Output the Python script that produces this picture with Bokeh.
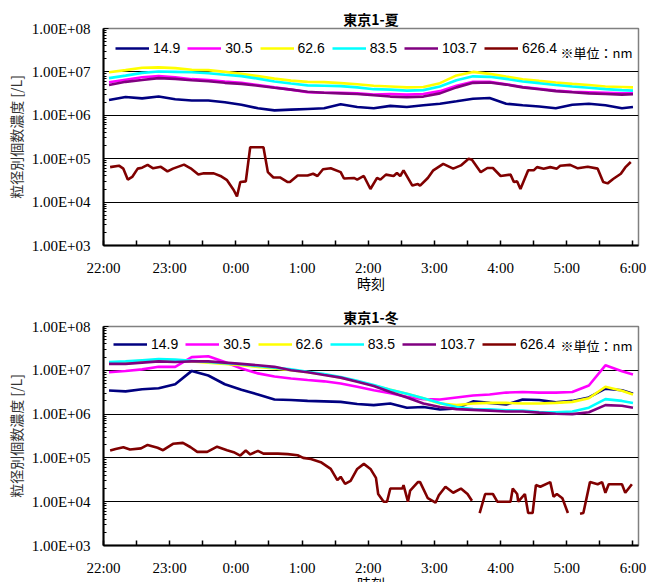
import math
from bokeh.plotting import figure
from bokeh.models import (Range1d, FixedTicker, CustomJSTickFormatter, Legend,
                          LegendItem, Label)
from bokeh.layouts import column
from bokeh.embed import file_html
from bokeh.resources import INLINE

nan = float("nan")

# ---------------- data ----------------
series_names = ["14.9", "30.5", "62.6", "83.5", "103.7", "626.4"]
series_colors = ["#000080", "#FF00FF", "#FFFF00", "#00FFFF", "#800080", "#800000"]

hour_labels = ["22:00", "23:00", "0:00", "1:00", "2:00", "3:00", "4:00", "5:00", "6:00"]
y_labels = ["1.00E+03", "1.00E+04", "1.00E+05", "1.00E+06", "1.00E+07", "1.00E+08"]

# minutes after 22:00
grid_min = [5, 20, 35, 50, 65, 80, 95, 110, 125, 140, 155, 170, 185, 200, 215, 230,
            245, 260, 275, 290, 305, 320, 335, 350, 365, 380, 395, 410, 425, 440,
            455, 470, 480]

# ---- 東京1-夏 ----
summer_d149 = [2.25e6, 2.65e6, 2.45e6, 2.7e6, 2.35e6, 2.2e6, 2.2e6, 2.0e6, 1.75e6, 1.45e6,
               1.3e6, 1.35e6, 1.4e6, 1.45e6, 1.8e6, 1.55e6, 1.45e6, 1.65e6, 1.55e6, 1.7e6,
               1.85e6, 2.1e6, 2.4e6, 2.5e6, 1.85e6, 1.7e6, 1.6e6, 1.45e6, 1.75e6, 1.85e6,
               1.7e6, 1.45e6, 1.55e6]
summer_d305 = [5.8e6, 6.6e6, 7.5e6, 8.0e6, 7.5e6, 6.8e6, 6.5e6, 6.0e6, 5.6e6, 5.0e6,
               4.4e6, 3.9e6, 3.4e6, 3.3e6, 3.3e6, 3.2e6, 3.0e6, 3.1e6, 3.0e6, 3.1e6,
               3.6e6, 4.8e6, 5.9e6, 5.9e6, 5.2e6, 4.5e6, 4.1e6, 3.7e6, 3.5e6, 3.4e6,
               3.3e6, 3.2e6, 3.2e6]
summer_d626 = [9.8e6, 1.1e7, 1.25e7, 1.27e7, 1.22e7, 1.12e7, 1.1e7, 1.0e7, 9.0e6, 8.0e6,
               7.0e6, 6.3e6, 5.9e6, 5.8e6, 5.5e6, 5.2e6, 4.8e6, 4.6e6, 4.4e6, 4.5e6,
               5.5e6, 8.3e6, 1.0e7, 9.0e6, 7.8e6, 6.8e6, 6.2e6, 5.7e6, 5.3e6, 5.0e6,
               4.6e6, 4.5e6, 4.4e6]
summer_d835 = [7.2e6, 8.2e6, 9.5e6, 1.02e7, 1.0e7, 9.8e6, 9.3e6, 8.6e6, 8.0e6, 7.0e6,
               6.0e6, 5.4e6, 4.9e6, 4.8e6, 4.7e6, 4.4e6, 4.0e6, 3.9e6, 3.7e6, 3.8e6,
               4.6e6, 6.4e6, 7.9e6, 7.7e6, 6.9e6, 6.0e6, 5.5e6, 5.0e6, 4.6e6, 4.3e6,
               4.0e6, 3.8e6, 3.7e6]
summer_d1037 = [5.0e6, 5.9e6, 6.5e6, 7.2e6, 6.9e6, 6.4e6, 6.1e6, 5.6e6, 5.3e6, 4.8e6,
                4.3e6, 3.9e6, 3.5e6, 3.3e6, 3.2e6, 3.1e6, 2.9e6, 2.7e6, 2.6e6, 2.7e6,
                3.2e6, 4.4e6, 5.6e6, 5.7e6, 5.1e6, 4.4e6, 4.0e6, 3.6e6, 3.4e6, 3.2e6,
                3.1e6, 3.0e6, 3.05e6]
summer_d6264_t = [6, 14, 18, 22, 26, 31, 35, 40, 45, 52, 58, 63, 73, 79, 86, 91, 100, 106,
                  112, 118, 121, 124, 129, 133, 145, 149, 154, 160, 167, 169, 176, 185, 190,
                  194, 199, 206, 215, 218, 227, 230, 236, 242, 248, 251, 256, 263, 266, 269,
                  272, 280, 285, 287, 294, 299, 308, 317, 324, 331, 334, 342, 348, 353, 360,
                  369, 372, 375, 378, 385, 390, 393, 399, 405, 411, 414, 423, 430, 439, 448,
                  453, 457, 462, 469, 473, 478]
summer_d6264 = [6.4e4, 6.9e4, 5.9e4, 3.3e4, 3.8e4, 5.9e4, 6.2e4, 7.2e4, 6.0e4, 6.5e4,
                5.1e4, 5.9e4, 7.3e4, 6.0e4, 4.3e4, 4.6e4, 4.6e4, 4.0e4, 3.2e4, 1.9e4,
                1.35e4, 2.9e4, 3.0e4, 1.84e5, 1.84e5, 4.9e4, 3.7e4, 3.7e4, 2.9e4, 2.9e4,
                4.1e4, 4.1e4, 4.5e4, 4.0e4, 5.7e4, 6.0e4, 4.9e4, 3.5e4, 3.6e4, 3.3e4,
                4.0e4, 2.0e4, 3.6e4, 3.3e4, 4.3e4, 4.0e4, 4.7e4, 4.0e4, 5.4e4, 2.4e4,
                2.6e4, 2.4e4, 3.6e4, 5.4e4, 7.6e4, 5.9e4, 7.0e4, 1.0e5, 9.5e4, 4.9e4,
                6.1e4, 6.1e4, 4.0e4, 4.3e4, 2.9e4, 3.0e4, 2.0e4, 5.4e4, 5.4e4, 6.4e4,
                5.9e4, 6.4e4, 5.9e4, 6.9e4, 7.2e4, 6.0e4, 6.5e4, 5.9e4, 2.9e4, 2.7e4,
                3.4e4, 4.5e4, 6.3e4, 8.4e4]

# ---- 東京1-冬 ----
winter_d149 = [3.45e6, 3.3e6, 3.7e6, 3.9e6, 4.8e6, 9.7e6, 7.6e6, 4.8e6, 3.6e6, 2.8e6,
               2.15e6, 2.1e6, 2.0e6, 1.95e6, 1.9e6, 1.7e6, 1.6e6, 1.75e6, 1.4e6, 1.45e6,
               1.27e6, 1.35e6, 1.95e6, 1.8e6, 1.65e6, 2.15e6, 2.1e6, 1.85e6, 2.0e6, 2.4e6,
               3.8e6, 3.5e6, 2.9e6]
winter_d305 = [9.0e6, 9.6e6, 1.05e7, 1.2e7, 1.2e7, 2.0e7, 2.1e7, 1.55e7, 1.1e7, 8.5e6,
               7.2e6, 6.5e6, 6.0e6, 5.6e6, 5.0e6, 4.2e6, 3.5e6, 3.0e6, 2.5e6, 2.2e6,
               2.15e6, 2.4e6, 2.65e6, 2.8e6, 3.1e6, 3.2e6, 3.1e6, 3.1e6, 3.2e6, 4.5e6,
               1.3e7, 9.5e6, 8.0e6]
winter_d626 = [1.5e7, 1.55e7, 1.65e7, 1.7e7, 1.7e7, 1.6e7, 1.5e7, 1.4e7, 1.3e7, 1.2e7,
               1.1e7, 1.0e7, 9.0e6, 8.0e6, 6.8e6, 5.6e6, 4.5e6, 3.6e6, 2.9e6, 2.3e6,
               1.75e6, 1.6e6, 1.75e6, 1.8e6, 1.8e6, 1.75e6, 1.75e6, 1.8e6, 1.9e6, 2.3e6,
               4.2e6, 3.4e6, 2.8e6]
winter_d835 = [1.55e7, 1.6e7, 1.7e7, 1.8e7, 1.75e7, 1.65e7, 1.55e7, 1.45e7, 1.38e7, 1.25e7,
               1.15e7, 1.05e7, 9.3e6, 8.2e6, 7.0e6, 5.8e6, 4.6e6, 3.6e6, 2.9e6, 2.3e6,
               1.8e6, 1.45e6, 1.3e6, 1.28e6, 1.22e6, 1.2e6, 1.12e6, 1.1e6, 1.15e6, 1.4e6,
               2.2e6, 2.0e6, 1.8e6]
winter_d1037 = [1.4e7, 1.4e7, 1.5e7, 1.6e7, 1.55e7, 1.6e7, 1.6e7, 1.5e7, 1.4e7, 1.3e7,
                1.2e7, 1.0e7, 9.0e6, 7.8e6, 6.8e6, 5.5e6, 4.4e6, 3.2e6, 2.4e6, 1.75e6,
                1.45e6, 1.3e6, 1.25e6, 1.2e6, 1.15e6, 1.15e6, 1.08e6, 1.02e6, 1.0e6, 1.1e6,
                1.6e6, 1.55e6, 1.4e6]
winter_d6264_t = [6, 11, 18, 24, 34, 40, 49, 54, 63, 72, 79, 85, 94, 103, 112, 118, 124,
                  129, 133, 140, 145, 158, 167, 176, 181, 188, 197, 206, 212, 215, 219, 224,
                  230, 236, 242, 247, 249, 254, 257, 260, 271, 272, 276, 278, 285, 287, 294,
                  301, 304, 310, 317, 324, 330, 334, 337, 341, 346, 353, 357, 369, 371, 375,
                  376, 382, 385, 389, 392, 396, 405, 408, 411, 416, 421, 426, 432, 435, 441,
                  448, 452, 455, 458, 470, 473, 479]
winter_d6264 = [1.48e5, 1.6e5, 1.75e5, 1.55e5, 1.65e5, 1.98e5, 1.7e5, 1.5e5, 2.1e5, 2.2e5,
                1.75e5, 1.37e5, 1.37e5, 1.8e5, 1.5e5, 1.35e5, 1.13e5, 1.48e5, 1.2e5, 1.45e5,
                1.25e5, 1.25e5, 1.22e5, 1.15e5, 1.0e5, 9.4e4, 8.0e4, 5.6e4, 3.1e4, 3.7e4,
                2.56e4, 3.0e4, 5.6e4, 7.3e4, 5.6e4, 3.5e4, 1.5e4, 1.0e4, 1.0e4, 2.0e4,
                2.0e4, 2.4e4, 1.0e4, 1.8e4, 2.8e4, 2.8e4, 1.2e4, 9.5e3, 1.4e4, 2.2e4,
                1.6e4, 2.0e4, 1.5e4, 1.05e4, nan, 5.5e3, 1.5e4, 1.5e4, 1.0e4, 1.0e4,
                2.0e4, 1.5e4, 1.0e4, 1.5e4, 5.5e3, 5.5e3, 2.4e4, 2.2e4, 2.8e4, 1.3e4,
                1.5e4, 1.2e4, 5.5e3, nan, 5.3e3, 5.5e3, 2.8e4, 2.5e4, 2.8e4, 1.6e4,
                2.5e4, 2.5e4, 1.6e4, 2.5e4]

summer = [(grid_min, summer_d149), (grid_min, summer_d305), (grid_min, summer_d626),
          (grid_min, summer_d835), (grid_min, summer_d1037), (summer_d6264_t, summer_d6264)]
winter = [(grid_min, winter_d149), (grid_min, winter_d305), (grid_min, winter_d626),
          (grid_min, winter_d835), (grid_min, winter_d1037), (winter_d6264_t, winter_d6264)]

CJK = "Noto Sans CJK JP"
X_LABEL = "時刻"


def make_chart(title, series, height, b_top, b_bottom, legend_margin, unit_from_top):
    p = figure(width=653, height=height, output_backend="svg", toolbar_location=None,
               y_axis_type="log", x_range=Range1d(0, 485), y_range=Range1d(1e3, 1e8),
               min_border_left=103, min_border_right=15, min_border_top=b_top,
               min_border_bottom=b_bottom, background_fill_color="white",
               border_fill_color="white")
    frame_h = height - b_top - b_bottom

    p.title.text = title
    p.title.align = "center"
    p.title.text_font = CJK
    p.title.text_font_size = "14px"
    p.title.text_font_style = "bold"
    p.title.text_color = "black"
    p.title.standoff = 0
    p.title.offset = 0

    p.outline_line_color = "#808080"
    p.outline_line_width = 1.5

    # grid
    p.xgrid.visible = False
    p.ygrid.ticker = FixedTicker(ticks=[1e4, 1e5, 1e6, 1e7])
    p.ygrid.grid_line_color = "black"
    p.ygrid.grid_line_width = 1

    # x axis
    xa = p.xaxis[0]
    xa.ticker = FixedTicker(ticks=list(range(0, 481, 30)))
    xa.formatter = CustomJSTickFormatter(args=dict(labels=hour_labels), code="""
        if (Math.round(tick) % 60 != 0) return "";
        return labels[Math.round(tick / 60)];
    """)
    xa.axis_line_color = "black"
    xa.axis_line_width = 2
    xa.major_tick_in = 5
    xa.major_tick_out = 0
    xa.major_tick_line_width = 1.5
    xa.minor_tick_line_color = None
    xa.major_label_text_font = "Liberation Serif"
    xa.major_label_text_font_size = "15px"
    xa.major_label_text_color = "black"
    xa.major_label_standoff = 14
    xa.axis_label = X_LABEL
    xa.axis_label_text_font = CJK
    xa.axis_label_text_font_size = "14px"
    xa.axis_label_text_font_style = "normal"
    xa.axis_label_text_color = "black"
    xa.axis_label_standoff = -6

    # y axis
    ya = p.yaxis[0]
    minor = [k * 10 ** e for e in range(3, 8) for k in range(2, 10)]
    ya.ticker = FixedTicker(ticks=[1e3, 1e4, 1e5, 1e6, 1e7, 1e8], minor_ticks=minor)
    ya.formatter = CustomJSTickFormatter(args=dict(labels=y_labels), code="""
        const i = Math.round(Math.log10(tick)) - 3;
        return labels[i] ?? "";
    """)
    ya.axis_line_color = "black"
    ya.axis_line_width = 2
    ya.major_tick_in = 5
    ya.major_tick_out = 0
    ya.minor_tick_in = 3
    ya.minor_tick_out = 0
    ya.major_label_text_font = "Liberation Serif"
    ya.major_label_text_font_size = "15px"
    ya.major_label_text_color = "black"
    ya.major_label_standoff = 13
    ya.axis_label = "粒径別個数濃度 [/L]"
    ya.axis_label_text_font = CJK
    ya.axis_label_text_font_size = "14px"
    ya.axis_label_text_font_style = "normal"
    ya.axis_label_text_color = "#333333"
    ya.axis_label_standoff = 3

    items = []
    for name, color, (xs, ys) in zip(series_names, series_colors, series):
        r = p.line(xs, ys, line_color=color, line_width=2.6)
        items.append(LegendItem(label=name, renderers=[r]))

    legend = Legend(items=items, orientation="horizontal", location="top_left",
                    margin=legend_margin, padding=0, spacing=7, glyph_width=34,
                    glyph_height=16, label_height=16, label_standoff=4,
                    label_text_font="Liberation Sans", label_text_font_size="14px",
                    label_text_color="black", background_fill_alpha=0,
                    border_line_alpha=0)
    p.add_layout(legend)

    p.add_layout(Label(x=457, y=frame_h - unit_from_top, x_units="screen",
                       y_units="screen", text="※単位：nm", text_font=CJK,
                       text_font_size="13px", text_baseline="middle",
                       text_color="black"))
    return p


p1 = make_chart("東京1-夏", summer, 298, 28, 53, 12, 24)
p2 = make_chart("東京1-冬", winter, 298, 28, 51, 10, 19)

# the page is 582 px tall: the lower chart's axis title runs off the bottom edge,
# as in the original; clip the column to the window instead of scrolling
layout = column(p1, p2, spacing=0, width=653, height=582,
                stylesheets=[":host { overflow: hidden; }"])
open("out.html", "w").write(file_html(layout, INLINE))
